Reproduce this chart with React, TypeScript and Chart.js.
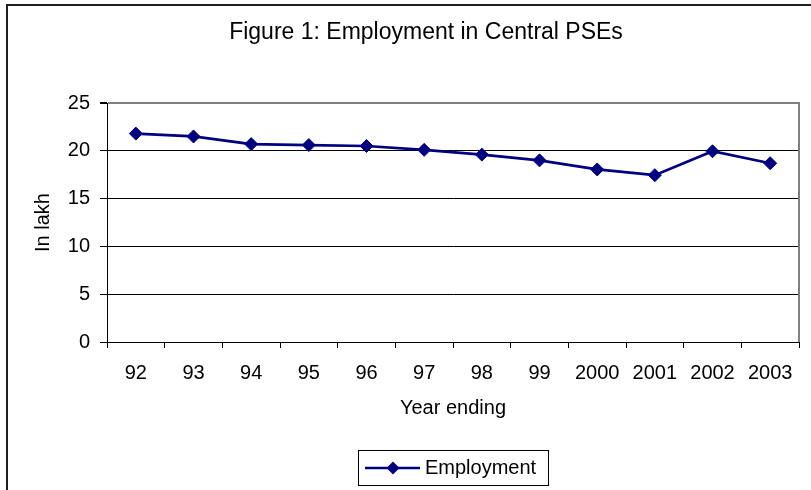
import { useEffect, useRef } from 'react';
import { Chart, registerables } from 'chart.js';

Chart.register(...registerables);

const chartTitle = 'Figure 1: Employment in Central PSEs';
const categories = ['92', '93', '94', '95', '96', '97', '98', '99', '2000', '2001', '2002', '2003'];
const employment = [21.8, 21.5, 20.7, 20.6, 20.5, 20.1, 19.6, 19.0, 18.05, 17.45, 19.95, 18.7];
const seriesName = 'Employment';
const yAxisTitle = 'In lakh';
const xAxisTitle = 'Year ending';
const yMin = 0;
const yMax = 25;
const yStep = 5;

const FONT = '"Liberation Sans", Arial, sans-serif';
const NAVY = '#000080';

export default function App() {
  const ref = useRef<HTMLCanvasElement>(null);

  useEffect(() => {
    if (!ref.current) return;

    const overlay = {
      id: 'overlay',
      afterDraw(chart: any) {
        const { ctx, chartArea } = chart;
        ctx.save();
        // plot area right border (gray)
        ctx.strokeStyle = '#808080';
        ctx.lineWidth = 2;
        ctx.beginPath();
        ctx.moveTo(chartArea.right, chartArea.top - 1);
        ctx.lineTo(chartArea.right, chartArea.bottom);
        ctx.stroke();

        // title
        ctx.fillStyle = '#000';
        ctx.font = `23px ${FONT}`;
        ctx.textAlign = 'center';
        ctx.textBaseline = 'middle';
        ctx.fillText(chartTitle, 426, 33);

        // legend box
        const bx = 358.5, by = 450.5, bw = 190, bh = 35;
        ctx.strokeStyle = '#000';
        ctx.lineWidth = 1;
        ctx.strokeRect(bx, by, bw, bh);
        const ly = 468;
        ctx.strokeStyle = NAVY;
        ctx.lineWidth = 2.5;
        ctx.beginPath();
        ctx.moveTo(365, ly);
        ctx.lineTo(420, ly);
        ctx.stroke();
        ctx.fillStyle = NAVY;
        const cx = 393, r = 6.5;
        ctx.beginPath();
        ctx.moveTo(cx, ly - r);
        ctx.lineTo(cx + r, ly);
        ctx.lineTo(cx, ly + r);
        ctx.lineTo(cx - r, ly);
        ctx.closePath();
        ctx.fill();
        ctx.fillStyle = '#000';
        ctx.textAlign = 'left';
        ctx.font = `20px ${FONT}`;
        ctx.fillText(seriesName, 425, ly);
        ctx.restore();
      },
    };

    const chart = new Chart(ref.current, {
      type: 'line',
      data: {
        labels: categories,
        datasets: [
          {
            label: seriesName,
            data: employment,
            borderColor: NAVY,
            backgroundColor: NAVY,
            borderWidth: 2.7,
            pointStyle: 'rectRot',
            pointRadius: 6.5,
            pointBackgroundColor: NAVY,
            pointBorderColor: NAVY,
            pointBorderWidth: 1,
            tension: 0,
          },
        ],
      },
      options: {
        animation: false,
        responsive: false,
        maintainAspectRatio: false,
        events: [],
        layout: { padding: { left: 0, right: 12, top: 103, bottom: 0 } },
        plugins: {
          legend: { display: false },
          title: { display: false },
          tooltip: { enabled: false },
        },
        scales: {
          x: {
            type: 'category',
            offset: true,
            afterFit(scale: any) {
              scale.height = 148;
            },
            grid: {
              display: true,
              drawOnChartArea: false,
              drawTicks: true,
              offset: true,
              tickLength: 6,
              color: '#000',
              tickColor: '#000',
            },
            border: { display: true, color: '#000', width: 1 },
            ticks: {
              color: '#000',
              font: { family: FONT, size: 20 },
              padding: 13,
              maxRotation: 0,
              autoSkip: false,
            },
            title: {
              display: true,
              text: xAxisTitle,
              color: '#000',
              font: { family: FONT, size: 20 },
              padding: { top: 0, bottom: 70 },
            },
          },
          y: {
            min: yMin,
            max: yMax,
            afterFit(scale: any) {
              scale.width = 107;
            },
            grid: {
              color: (c: any) => (c.tick && c.tick.value === yMax ? '#808080' : '#000'),
              lineWidth: (c: any) => (c.tick && c.tick.value === yMax ? 2 : 1),
              tickColor: '#000',
              tickLength: 7,
              drawTicks: true,
            },
            border: { display: true, color: '#000', width: 1 },
            ticks: {
              stepSize: yStep,
              color: '#000',
              font: { family: FONT, size: 20 },
              padding: 10,
            },
            title: {
              display: true,
              text: yAxisTitle,
              color: '#000',
              font: { family: FONT, size: 20 },
              padding: { top: 31, bottom: 0 },
            },
          },
        },
      },
      plugins: [overlay],
    });

    return () => chart.destroy();
  }, []);

  return (
    <div
      style={{
        position: 'absolute',
        left: 0,
        top: 0,
        width: 811,
        height: 490,
        overflow: 'hidden',
        background: '#fff',
      }}
    >
      <div
        style={{
          position: 'absolute',
          left: 6,
          top: 4,
          width: 900,
          height: 700,
          border: '2px solid #1e1e1e',
          boxSizing: 'border-box',
        }}
      />
      <canvas
        ref={ref}
        width={811}
        height={490}
        style={{ position: 'absolute', left: 0, top: 0, width: 811, height: 490 }}
      />
    </div>
  );
}
